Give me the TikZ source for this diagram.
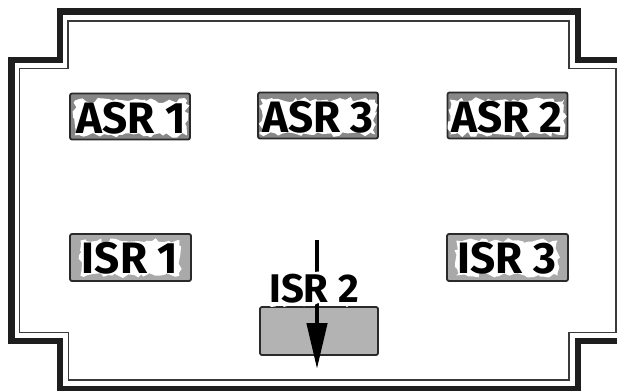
\documentclass[tikz,border=0pt]{standalone}
\usepackage{fontspec}
\setmainfont{Fira Sans}
\usetikzlibrary{arrows.meta,decorations.pathmorphing}
\definecolor{framec}{HTML}{1E1E1E}
\definecolor{thinc}{HTML}{3A3A3A}
\definecolor{asrfill}{HTML}{878787}
\definecolor{isrfill}{HTML}{A9A9A9}
\definecolor{isrtwo}{HTML}{B3B3B3}
\definecolor{boxline}{HTML}{2A2A2A}
\tikzset{
  outerframe/.style={draw=framec, line width=6.5pt, line join=miter},
  innerframe/.style={draw=thinc, line width=1.8pt, line join=miter},
  asrbox/.style={draw=boxline, line width=1.8pt, rounded corners=2pt, fill=asrfill, minimum width=120pt, minimum height=46pt, inner sep=0pt},
  isrbox/.style={draw=boxline, line width=1.8pt, rounded corners=2pt, fill=isrfill, minimum width=121pt, minimum height=47pt, inner sep=0pt},
  isrtwobox/.style={isrbox, fill=isrtwo, minimum width=118pt, minimum height=48pt},
  lbl/.style={font=\fontsize{44}{44}\selectfont\bfseries, text=black, inner sep=1.5pt,
    preaction={fill=white, decorate, decoration={random steps, segment length=4pt, amplitude=2.5pt}}},
  lblsmall/.style={lbl, font=\fontsize{40}{40}\selectfont\bfseries},
  arrowline/.style={draw=black, line width=4.5pt, -{Triangle[width=20pt,length=46pt]}}
}
\begin{document}
\begin{tikzpicture}[x=1pt,y=-1pt]
\pgfmathsetseed{7}
\useasboundingbox (0,0) rectangle (617,390);
\clip (0,0) rectangle (617,390);
\fill[white] (0,0) rectangle (617,390);
% frame
\draw[outerframe] (630,60) -- (578,60) -- (578,11.7) -- (60,11.7) -- (60,60) -- (11.5,60) -- (11.5,341) -- (60,341) -- (60,389) -- (578,389) -- (578,341) -- (630,341);
\draw[innerframe] (68,21) -- (569,21) -- (569,68.5) -- (616,68.5) -- (616,332.5) -- (569,332.5) -- (569,380) -- (68.5,380) -- (68.5,332.5) -- (19.5,332.5) -- (19.5,68.5) -- (68,68.5) -- cycle;
% boxes
\node[asrbox] (asr1) at (130,116.5) {};
\node[asrbox] (asr3) at (318,115.5) {};
\node[asrbox] (asr2) at (507.5,115.5) {};
\node[isrbox] (isr1) at (130.5,257.5) {};
\node[isrbox] (isr3) at (507.5,257.5) {};
\node[isrtwobox] (isr2) at (319,331) {};
% arrow
\coordinate (arrtop) at (317,240);
\coordinate (arrtip) at (317,369);
\draw[arrowline] (arrtop) -- (arrtip);
% labels
\node[lbl] (asr1t) at (131,118) {ASR 1};
\node[lbl] (asr3t) at (318,117) {ASR 3};
\node[lbl] (asr2t) at (507,117) {ASR 2};
\node[lbl] (isr1t) at (130,258) {ISR 1};
\node[lbl] (isr3t) at (507,258) {ISR 3};
\node[lblsmall] (isr2t) at (314,288.5) {ISR 2};
\end{tikzpicture}
\end{document}
